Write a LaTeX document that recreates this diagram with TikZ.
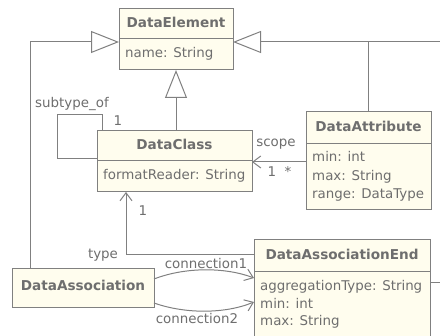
\documentclass[tikz,border=0pt]{standalone}
\usepackage{fontspec}
\setmainfont{DejaVu Sans}
\usetikzlibrary{arrows.meta,calc}
\definecolor{umlline}{RGB}{128,128,128}
\definecolor{umltext}{RGB}{110,110,110}
\definecolor{umlfill}{RGB}{255,253,238}
\begin{document}
\begin{tikzpicture}[x=1pt,y=-1pt,
  every node/.style={font=\fontsize{13.4}{17.5}\selectfont, text=umltext},
  cls/.style={draw=umlline, fill=umlfill, line width=1pt, inner sep=0pt, outer sep=0pt, anchor=north west},
  ttl/.style={font=\fontsize{13.6}{17.5}\selectfont\bfseries, inner sep=0pt, text height=10pt, text depth=3pt},
  attr/.style={anchor=west, inner sep=0pt, text height=10pt, text depth=3pt},
  lbl/.style={inner sep=0pt, text height=10pt, text depth=3pt},
  conn/.style={draw=umlline, line width=1pt},
  gen/.style={conn, -{Triangle[open, length=28pt, width=22pt, fill=white]}},
  nav/.style={conn, -{Straight Barb[length=8pt, width=12pt]}}
]
\useasboundingbox (0,0) rectangle (440,336);
\clip (0,0) rectangle (440,336);

% DataElement
\node[cls, minimum width=114pt, minimum height=61pt] (de) at (119,9) {};
\draw[conn] ($(de.north west)+(0,30)$) -- ($(de.north east)+(0,30)$);
\node[ttl] (deT) at (176,24) {DataElement};
\node[attr] (deA) at (125,54) {name: String};

% DataClass
\node[cls, minimum width=155pt, minimum height=61pt] (dc) at (97,131) {};
\draw[conn] ($(dc.north west)+(0,30)$) -- ($(dc.north east)+(0,30)$);
\node[ttl] (dcT) at (174.5,146) {DataClass};
\node[attr] (dcA) at (103,176) {formatReader: String};

% DataAttribute
\node[cls, minimum width=125pt, minimum height=98pt] (da) at (306,112) {};
\draw[conn] ($(da.north west)+(0,32)$) -- ($(da.north east)+(0,32)$);
\node[ttl] (daT) at (368.5,128) {DataAttribute};
\node[attr] (daA1) at (312,158) {min: int};
\node[attr] (daA2) at (312,177) {max: String};
\node[attr] (daA3) at (312,195) {range: DataType};

% DataAssociation
\node[cls, minimum width=142pt, minimum height=39pt] (das) at (12,269) {};
\node[ttl] (dasT) at (83,287) {DataAssociation};

% DataAssociationEnd
\node[cls, minimum width=176pt, minimum height=110pt] (dae) at (254,240) {};
\draw[conn] ($(dae.north west)+(0,32)$) -- ($(dae.north east)+(0,32)$);
\node[ttl] (daeT) at (342,256) {DataAssociationEnd};
\node[attr] (daeA1) at (260,287) {aggregationType: String};
\node[attr] (daeA2) at (260,305) {min: int};
\node[attr] (daeA3) at (260,322) {max: String};

% helper coordinates
\coordinate (offTop) at (441,42);
\coordinate (jAttr) at (368.5,42);
\coordinate (offEnd) at (441,283);
\coordinate (loopC) at (57,115);
\coordinate (scY) at (0,162);
\coordinate (typeY) at (0,255);

% generalizations
\draw[gen] (offTop) -- (de.east |- offTop);
\draw[conn] (da.north) -- (da.north |- jAttr);
\draw[gen] ($(das.north west)+(18,0)$) |- (de.west |- offTop);
\draw[gen] ($(dc.north west)+(79,0)$) -- ($(de.south west)+(57,0)$);

% self association
\draw[conn] ($(dc.north west)+(5,0)$) |- (loopC) |- ($(dc.north west)+(0,28)$);
\node[lbl] (subL) at (72,104) {subtype\_of};
\node[lbl] (subM) at (118,122) {1};

% scope
\draw[nav] (da.west |- scY) -- (dc.east |- scY);
\node[lbl] (scL) at (276,143) {scope};
\node[lbl] (scM1) at (272,173) {1};
\node[lbl] (scM2) at (288,173) {*};

% type
\draw[nav] (dae.west |- typeY) -| ($(dc.south west)+(29,0)$);
\node[lbl] (tyL) at (103,255) {type};
\node[lbl] (tyM) at (143,212) {1};

% connections
\draw[nav] ($(das.north east)+(0,10)$) .. controls (185,267) and (225,267) .. ($(dae.north west)+(0,38)$);
\draw[nav] ($(das.north east)+(0,34)$) .. controls (185,314) and (225,314) .. ($(dae.north west)+(0,62)$);
\node[lbl] (c1L) at (206,265) {connection1};
\node[lbl] (c2L) at (197,320) {connection2};

% off-picture link
\draw[conn] (dae.east |- offEnd) -- (offEnd);
\end{tikzpicture}
\end{document}
